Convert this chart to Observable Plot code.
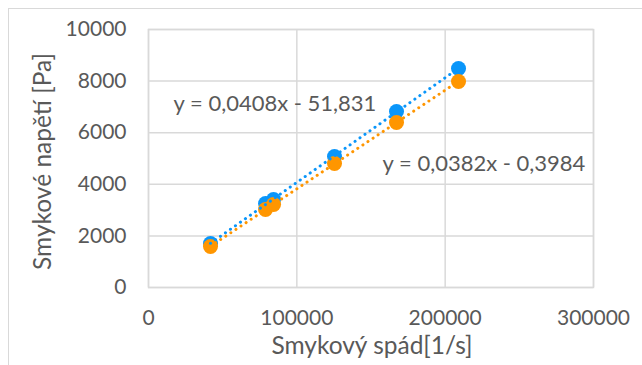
<!DOCTYPE html>
<html><head><meta charset="utf-8">
<script src="https://cdn.jsdelivr.net/npm/d3@7"></script>
<script src="https://cdn.jsdelivr.net/npm/@observablehq/plot@0.6"></script>
<style>
html,body{margin:0;padding:0;background:#fff;overflow:hidden;width:642px;height:365px;}
#frame{position:absolute;left:8px;top:8px;width:700px;height:400px;border:1px solid #d9d9d9;box-sizing:border-box;}
#chart{position:absolute;left:0;top:0;}
</style></head><body><div id="frame"></div><div id="chart"></div>
<script>
const shearRate = [41800, 78900, 84300, 125400, 167200, 209000];
const stressBlue = [1705, 3256, 3411, 5078, 6822, 8488];
const stressOrange = [1589, 3023, 3217, 4806, 6395, 7984];
const seriesNames = ["Série 1", "Série 2"];
const seriesColors = ["#0A96FA", "#FF9600"];
const equations = ["y = 0,0408x - 51,831", "y = 0,0382x - 0,3984"];
const eqX = [16900, 157800];
const eqY = [7130, 4800];
const xTicks = [0, 100000, 200000, 300000];
const yTicks = [0, 2000, 4000, 6000, 8000, 10000];
const xTitle = "Smykový spád[1/s]";
const yTitle = "Smykové napětí [Pa]";

const rows = [];
shearRate.forEach((x, i) => {
  rows.push({s: seriesNames[0], x, y: stressBlue[i]});
  rows.push({s: seriesNames[1], x, y: stressOrange[i]});
});
const blue = rows.filter(d => d.s === seriesNames[0]);
const orange = rows.filter(d => d.s === seriesNames[1]);
const eqs = equations.map((t, i) => ({t, x: eqX[i], y: eqY[i]}));
const fmt = d => String(d);

const chart = Plot.plot({
  width: 642, height: 365,
  marginLeft: 148, marginRight: 49, marginTop: 29, marginBottom: 78,
  style: {fontFamily: "Lato", fontSize: "21px", color: "#595959", background: "transparent"},
  x: {domain: [0, 300000]},
  y: {domain: [0, 10000]},
  marks: [
    Plot.gridX(xTicks, {stroke: "#d9d9d9", strokeOpacity: 1, strokeWidth: 1.5}),
    Plot.gridY(yTicks, {stroke: "#d9d9d9", strokeOpacity: 1, strokeWidth: 1.5}),
    Plot.frame({stroke: "#d9d9d9", strokeWidth: 1.5}),
    Plot.axisX(xTicks, {tickSize: 0, tickPadding: 23, fontSize: 21, tickFormat: fmt, label: null}),
    Plot.axisY(yTicks, {tickSize: 0, tickPadding: 22, fontSize: 21, tickFormat: fmt, label: null}),
    Plot.text([xTitle], {text: d => d, frameAnchor: "bottom", dy: 59, dx: 1, fontSize: 24.5, textAnchor: "middle", lineAnchor: "middle", fill: "#595959"}),
    Plot.text([yTitle], {text: d => d, frameAnchor: "left", rotate: -90, dx: -105, dy: 3, fontSize: 24.5, textAnchor: "middle", lineAnchor: "middle", fill: "#595959"}),
    Plot.dot(blue, {x: "x", y: "y", r: 7.5, fill: seriesColors[0], stroke: null}),
    Plot.dot(orange, {x: "x", y: "y", r: 7.5, fill: seriesColors[1], stroke: null}),
    Plot.linearRegressionY(blue, {x: "x", y: "y", ci: 0, stroke: seriesColors[0], strokeWidth: 3, strokeDasharray: "0.1,6", strokeLinecap: "round"}),
    Plot.linearRegressionY(orange, {x: "x", y: "y", ci: 0, stroke: seriesColors[1], strokeWidth: 3, strokeDasharray: "0.1,6", strokeLinecap: "round"}),
    Plot.text(eqs, {x: "x", y: "y", text: "t", textAnchor: "start", fontSize: 22, fill: "#595959"})
  ]
});
document.getElementById("chart").appendChild(chart);
</script></body></html>
